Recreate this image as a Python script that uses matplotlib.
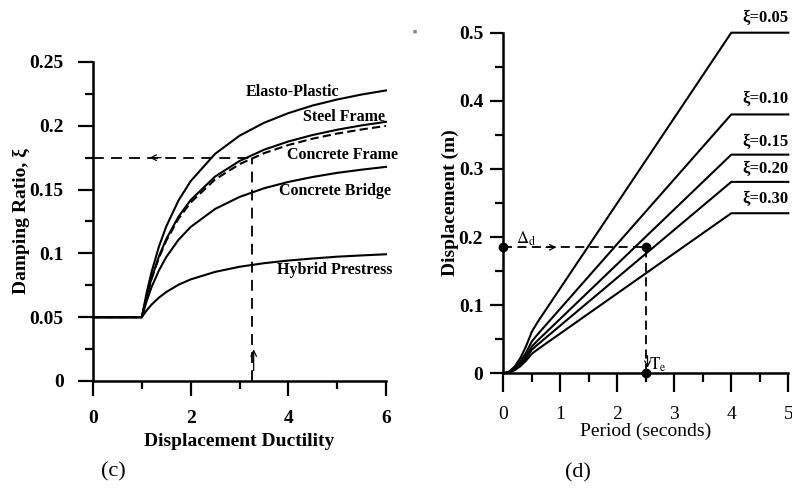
import matplotlib
matplotlib.use("Agg")
import matplotlib.pyplot as plt
from matplotlib.ticker import MultipleLocator

plt.rcParams["font.family"] = ["Liberation Serif", "DejaVu Serif"]
plt.rcParams["mathtext.fontset"] = "stix"

# Panel (c): equivalent viscous damping vs displacement ductility
ductility = [0, 1, 1.1, 1.2, 1.35, 1.5, 1.75, 2, 2.5, 3, 3.5, 4, 4.5, 5, 5.5, 6]
elasto_plastic = [0.05, 0.05, 0.0694, 0.0855, 0.1053, 0.1211, 0.1414, 0.1566, 0.1780,
                  0.1922, 0.2023, 0.2099, 0.2159, 0.2206, 0.2245, 0.2277]
steel_frame = [0.05, 0.05, 0.0667, 0.0806, 0.0976, 0.1112, 0.1287, 0.1418, 0.1602,
               0.1724, 0.1812, 0.1877, 0.1928, 0.1969, 0.2003, 0.2031]
concrete_frame = [0.05, 0.05, 0.0664, 0.0800, 0.0966, 0.1099, 0.1271, 0.1399, 0.1579,
                  0.1699, 0.1785, 0.1849, 0.1899, 0.1939, 0.1971, 0.1999]
concrete_bridge = [0.05, 0.05, 0.0628, 0.0736, 0.0866, 0.0971, 0.1106, 0.1207, 0.1348,
                   0.1442, 0.1510, 0.1560, 0.1599, 0.1631, 0.1656, 0.1678]
hybrid_prestress = [0.05, 0.05, 0.0554, 0.0599, 0.0653, 0.0697, 0.0754, 0.0796, 0.0855,
                    0.0895, 0.0923, 0.0944, 0.0960, 0.0974, 0.0984, 0.0993]
curve_labels = ["Elasto-Plastic", "Steel Frame", "Concrete Frame",
                "Concrete Bridge", "Hybrid Prestress"]
label_mu = [4.08, 5.14, 5.10, 4.96, 4.94]
label_xi = [0.2265, 0.207, 0.177, 0.149, 0.087]
design_mu = 3.25
design_xi = 0.175

# Panel (d): displacement spectra for several damping levels
period = [0, 0.1, 0.2, 0.3, 0.4, 0.5, 0.6, 4.0, 5.0]
disp_005 = [0, 0.0025, 0.010, 0.0225, 0.040, 0.0610, 0.075, 0.500, 0.500]
disp_010 = [0, 0.0019, 0.0076, 0.0172, 0.0306, 0.0468, 0.057, 0.380, 0.380]
disp_015 = [0, 0.0016, 0.0064, 0.0144, 0.0257, 0.0393, 0.048, 0.321, 0.321]
disp_020 = [0, 0.0014, 0.0056, 0.0127, 0.0226, 0.0346, 0.042, 0.281, 0.281]
disp_030 = [0, 0.0012, 0.0047, 0.0105, 0.0187, 0.0287, 0.035, 0.235, 0.235]
xi_labels = ["ξ=0.05", "ξ=0.10", "ξ=0.15", "ξ=0.20", "ξ=0.30"]
xi_label_y = [0.522, 0.403, 0.340, 0.2995, 0.2555]
design_disp = 0.185
eff_period = 2.5

fig = plt.figure(figsize=(7.92, 4.88), dpi=100)


def style_axes(ax, major_len, minor_len, xpad, ypad):
    for s in ("top", "right"):
        ax.spines[s].set_visible(False)
    for s in ("left", "bottom"):
        ax.spines[s].set_linewidth(1.8)
    ax.tick_params(which="major", direction="out", width=1.6, labelsize=14)
    ax.tick_params(which="minor", direction="out", width=1.6)
    ax.tick_params(axis="y", which="major", length=major_len[1], pad=ypad)
    ax.tick_params(axis="y", which="minor", length=minor_len[1])
    ax.tick_params(axis="x", which="major", length=major_len[0], pad=xpad)
    ax.tick_params(axis="x", which="minor", length=minor_len[0])
    for lab in ax.get_xticklabels() + ax.get_yticklabels():
        lab.set_fontweight("bold")


# ---- (c) ----
ax1 = fig.add_axes([0.1174, 0.2193, 0.370, 0.6537])
ax1.set_xlim(0, 6)
ax1.set_ylim(0, 0.25)
ax1.set_xticks([0, 2, 4, 6])
ax1.set_xticklabels(["0", "2", "4", "6"])
ax1.set_yticks([0, 0.05, 0.1, 0.15, 0.2, 0.25])
ax1.set_yticklabels(["0", "0.05", "0.1", "0.15", "0.2", "0.25"])
ax1.xaxis.set_minor_locator(MultipleLocator(1))
ax1.yaxis.set_minor_locator(MultipleLocator(0.025))
style_axes(ax1, (11, 11), (6, 6), 10, 10)

for ys in (elasto_plastic, steel_frame, concrete_bridge, hybrid_prestress):
    ax1.plot(ductility, ys, color="black", lw=1.5, clip_on=False)
ax1.plot(ductility, concrete_frame, color="black", lw=1.5, ls=(0, (4, 2)), clip_on=False)

for txt, x, y in zip(curve_labels, label_mu, label_xi):
    ax1.text(x, y, txt, ha="center", va="center", fontsize=11.5, fontweight="bold")

ax1.plot([0, design_mu], [design_xi, design_xi], color="black", lw=1.3, ls=(0, (6, 4)))
ax1.plot([design_mu, design_mu], [0, design_xi], color="black", lw=1.3, ls=(0, (6, 4)))
ax1.annotate("", xy=(1.1, design_xi), xytext=(1.45, design_xi),
             arrowprops=dict(arrowstyle="->", lw=0.9, color="black"))
ax1.annotate("", xy=(design_mu + 0.04, 0.027), xytext=(design_mu + 0.04, 0.006),
             arrowprops=dict(arrowstyle="->", lw=0.9, color="black"))

ax1.set_xlabel("Displacement Ductility", fontsize=14, fontweight="bold", labelpad=4)
ax1.set_ylabel("Damping Ratio, ξ", fontsize=14, fontweight="bold", labelpad=0)

# ---- (d) ----
ax2 = fig.add_axes([0.6355, 0.235, 0.3598, 0.698])
ax2.set_xlim(0, 5)
ax2.set_ylim(0, 0.5)
ax2.set_xticks([0, 1, 2, 3, 4, 5])
ax2.set_yticks([0, 0.1, 0.2, 0.3, 0.4, 0.5])
ax2.set_yticklabels(["0", "0.1", "0.2", "0.3", "0.4", "0.5"])
ax2.xaxis.set_minor_locator(MultipleLocator(0.5))
ax2.yaxis.set_minor_locator(MultipleLocator(0.05))
style_axes(ax2, (13.5, 9.5), (6.5, 6), 10, 5)
for lab in ax2.get_xticklabels():
    lab.set_fontweight("normal")

for ds in (disp_005, disp_010, disp_015, disp_020, disp_030):
    ax2.plot(period, ds, color="black", lw=1.5, clip_on=False)

for txt, y in zip(xi_labels, xi_label_y):
    ax2.text(5.0, y, txt, ha="right", va="center", fontsize=12, fontweight="bold")

ax2.plot([0, eff_period], [design_disp, design_disp], color="black", lw=1.3, ls=(0, (5, 3)))
ax2.plot([eff_period, eff_period], [0, design_disp], color="black", lw=1.3, ls=(0, (5, 3)))
ax2.plot([0, eff_period, eff_period], [design_disp, design_disp, 0], "o", color="black",
         ms=6, clip_on=False, zorder=5)
ax2.annotate("", xy=(0.98, design_disp), xytext=(0.7, design_disp),
             arrowprops=dict(arrowstyle="->", lw=0.9, color="black"))
ax2.annotate("", xy=(eff_period + 0.03, 0.004), xytext=(eff_period + 0.03, 0.03),
             arrowprops=dict(arrowstyle="->", lw=0.9, color="black"))
ax2.text(0.40, 0.197, r"$\Delta_\mathrm{d}$", ha="center", va="center", fontsize=12)
ax2.text(2.70, 0.013, r"$\mathrm{T}_\mathrm{e}$", ha="center", va="center", fontsize=12)

ax2.set_xlabel("Period (seconds)", fontsize=14, labelpad=0)
ax2.set_ylabel("Displacement (m)", fontsize=14, fontweight="bold", labelpad=0)

fig.text(0.1427, 0.034, "(c)", ha="center", va="center", fontsize=16)
fig.text(0.730, 0.031, "(d)", ha="center", va="center", fontsize=16)
fig.text(0.524, 0.935, "■", ha="center", va="center", fontsize=5, color="#888888")

fig.savefig("out.png", dpi=100)
